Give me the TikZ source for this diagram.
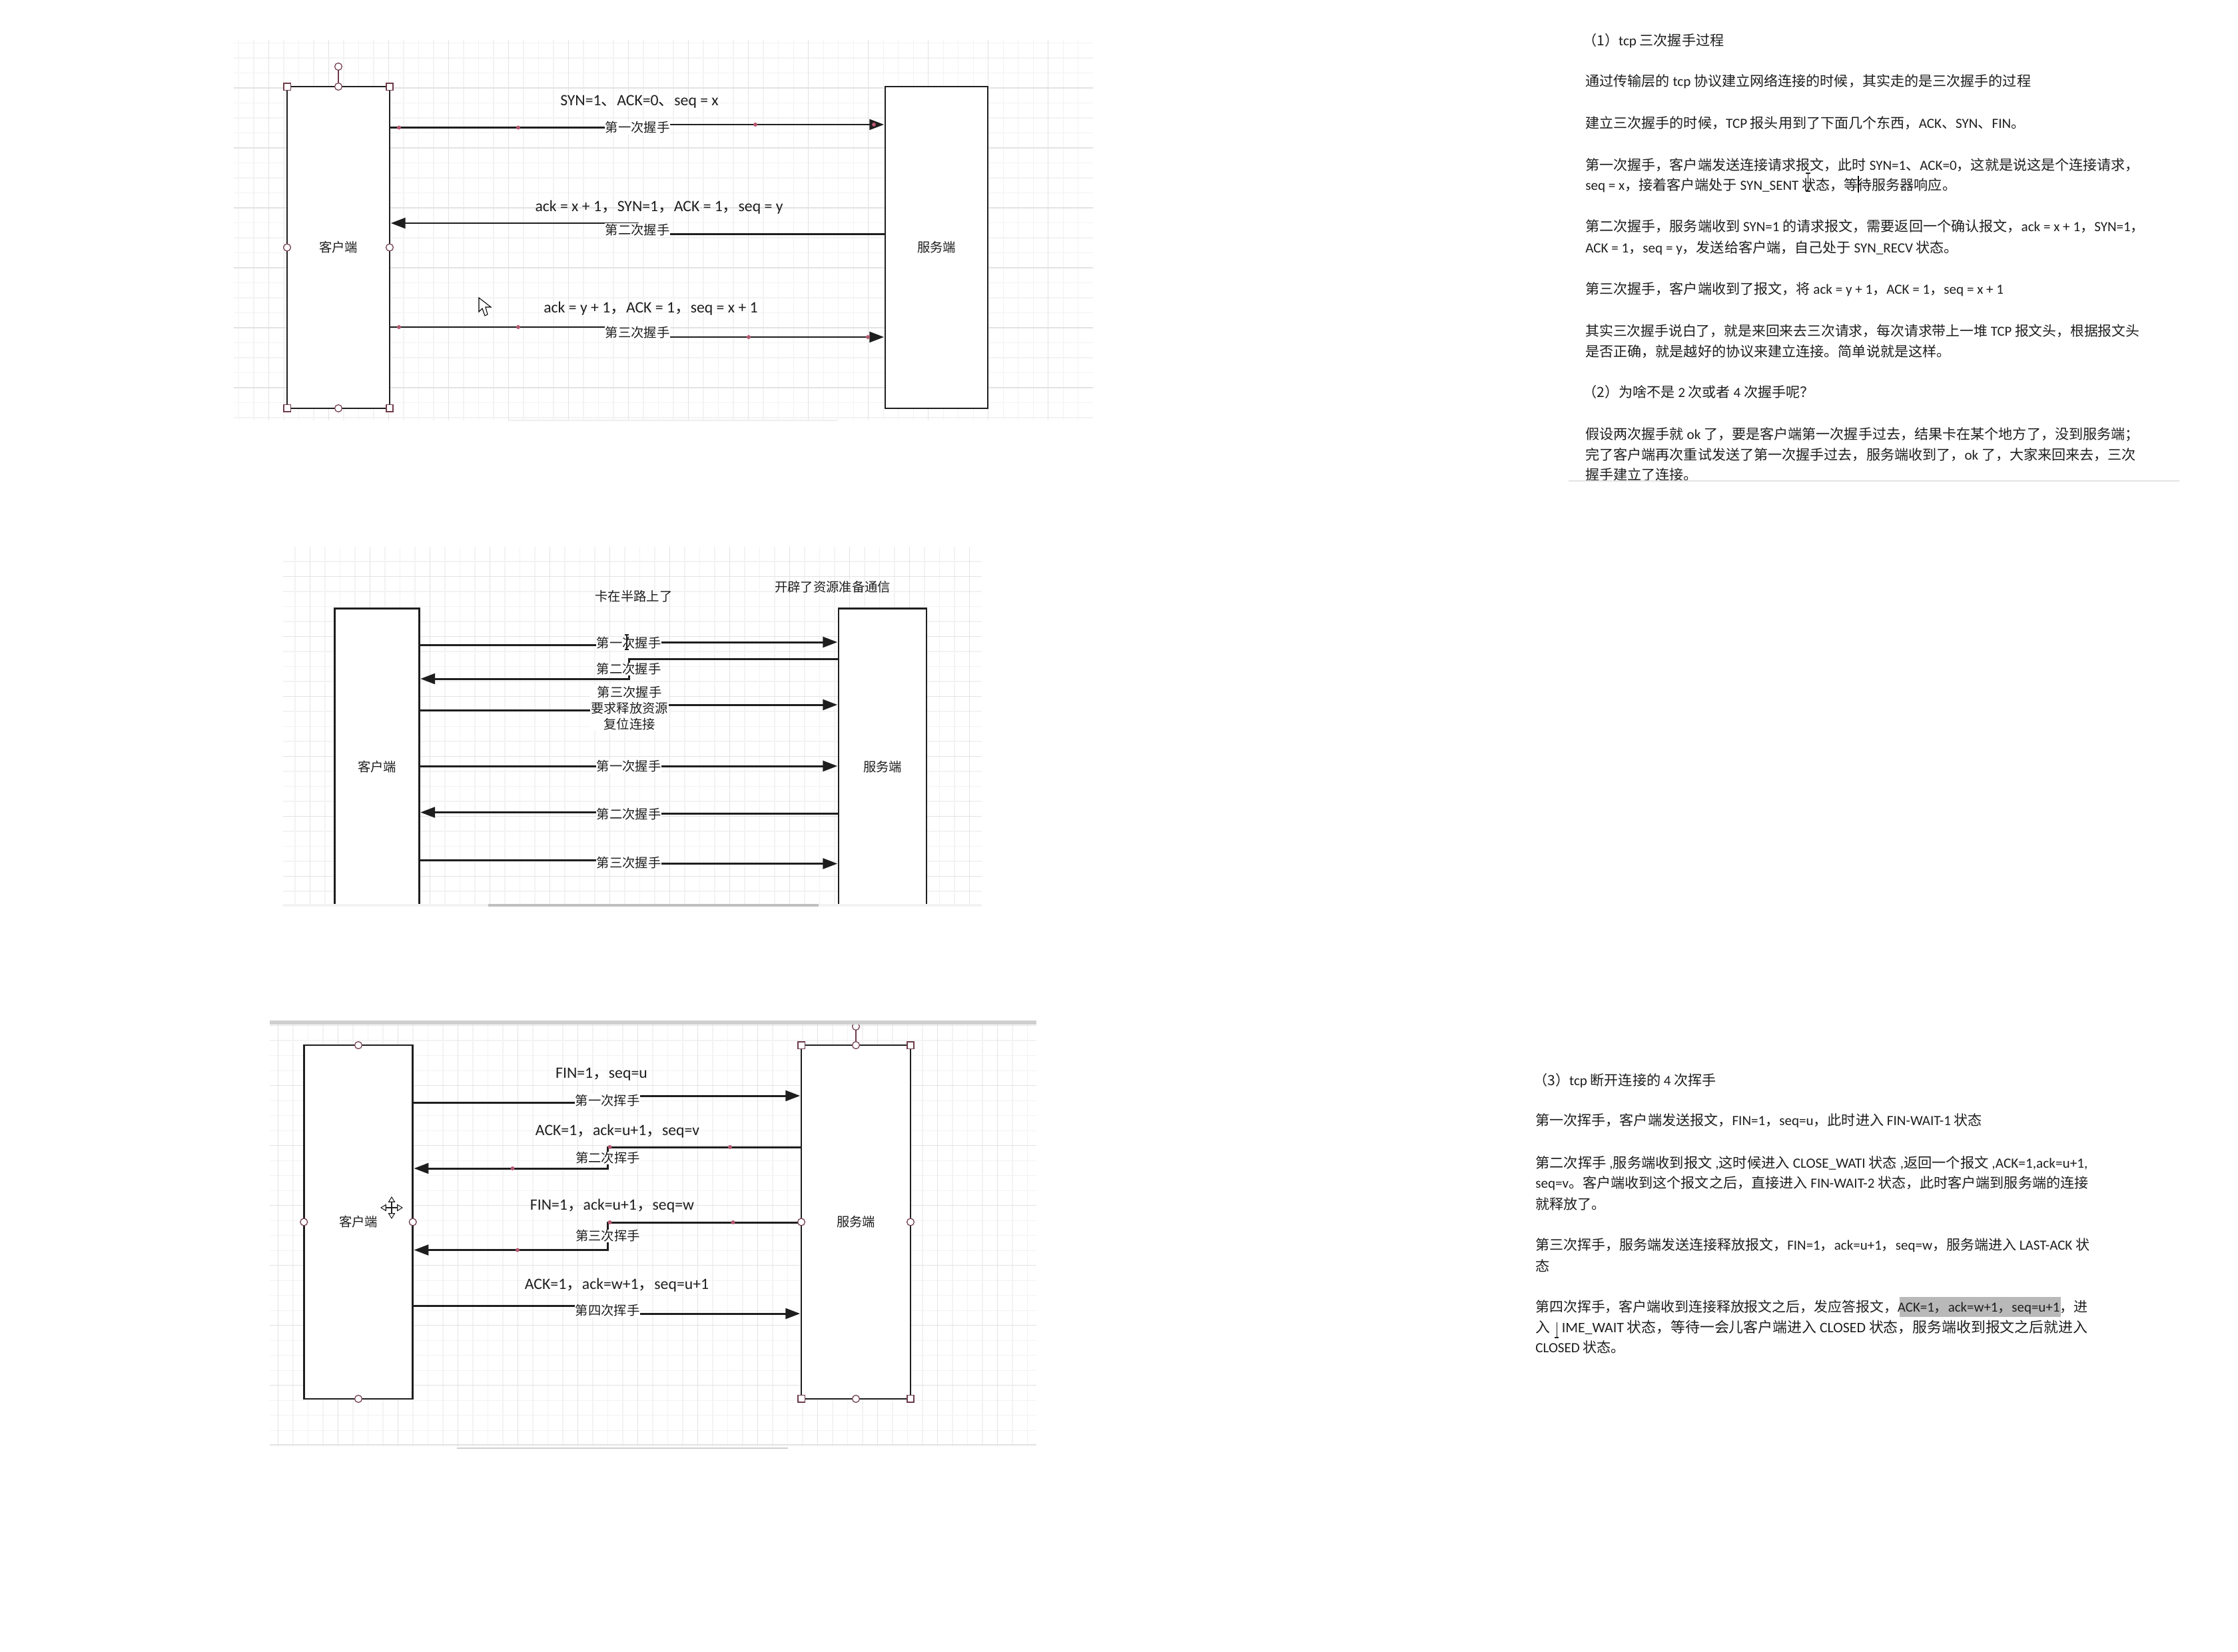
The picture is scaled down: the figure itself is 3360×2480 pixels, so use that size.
\documentclass[tikz,border=0pt]{standalone}
\usepackage{fontspec}
\setmainfont{Noto Sans CJK SC}
\newfontfamily\latfont{Carlito}
\usetikzlibrary{arrows.meta}

\definecolor{ink}{HTML}{1E1E1E}
\definecolor{minorline}{HTML}{F3F3F3}
\definecolor{majorline}{HTML}{E3E3E3}
\definecolor{handlecol}{HTML}{6E3A48}
\definecolor{bendcol}{HTML}{B5566F}

\newcommand{\lat}[1]{{\latfont #1}}

% grid sheet: x1, y1, x2, y2, x phase, y phase
\newcommand{\gridsheet}[6]{
    \begin{scope}
        \clip (#1,#2) rectangle (#3,#4);
        \foreach \i in {0,...,60} {
            \draw[minorline,line width=0.7pt] ({#5+22.5*\i},#2) -- ({#5+22.5*\i},#4);
            \draw[minorline,line width=0.7pt] (#1,{#6+22.5*\i}) -- (#3,{#6+22.5*\i});
        }
        \foreach \i in {0,...,15} {
            \draw[majorline,line width=0.8pt] ({#5+90*\i},#2) -- ({#5+90*\i},#4);
            \draw[majorline,line width=0.8pt] (#1,{#6+90*\i}) -- (#3,{#6+90*\i});
        }
    \end{scope}
}

\begin{document}
\begin{tikzpicture}[x=0.02cm,y=-0.02cm,
        box/.style = {rectangle,
            draw=ink,
            fill=white,
            line width=1.5pt,
            outer sep=0pt,
            text=ink,
            font=\fontsize{11}{13.8}\selectfont
            },
        wire/.style = {draw=ink,
            line width=1.7pt,
            -{Triangle[length=12.5pt,width=9pt]},
            shorten >=1pt
            },
        lbl/.style = {fill=white,
            inner sep=0.5pt,
            align=center,
            text=ink,
            font=\fontsize{11}{13.8}\selectfont
            },
        note/.style = {inner sep=0pt,
            text=ink,
            font=\fontsize{11}{13.8}\selectfont
            },
        tagnote/.style = {inner sep=0pt,
            text=ink,
            font=\fontsize{13.5}{15}\selectfont
            },
        para/.style = {anchor=base west,
            yshift=-4.5pt,
            inner sep=0pt,
            text=ink,
            font=\fontsize{12}{14}\selectfont
            },
        roundhandle/.style = {circle,
            draw=handlecol,
            fill=white,
            line width=0.7pt,
            inner sep=0pt,
            minimum size=6.2pt
            },
        squarehandle/.style = {rectangle,
            draw=handlecol,
            fill=white,
            line width=0.7pt,
            inner sep=0pt,
            minimum size=5.8pt
            }]

    \useasboundingbox (0,0) rectangle (3360,2480);
    \fill[white] (0,0) rectangle (3360,2480);

    % Three-way handshake
    \gridsheet{351}{60}{1641}{631}{313.6}{42}
    \fill[majorline!60] (763,630) rectangle (1258,632);

    \node[box,minimum width=3.08cm,minimum height=9.66cm] (A) at (508,371.5) {客户端};
    \node[box,minimum width=3.08cm,minimum height=9.66cm] (B) at (1406,371.5) {服务端};

    \coordinate (m1) at (957,191.5);
    \coordinate (m2) at (957,345);
    \coordinate (m3) at (957,499);
    \draw[wire] (A.east |- 0,191.5) -| (m1) |- (B.west |- 0,187);
    \draw[wire] (B.west |- 0,351.5) -| (m2) |- (A.east |- 0,335);
    \draw[wire] (A.east |- 0,491) -| (m3) |- (B.west |- 0,506);
    \foreach \x/\y in {599/191.5,778/191.5,1134/187,1312/187,599/491,778/491,1124/506,1303/506}
        \fill[bendcol] (\x,\y) circle (1.7pt);

    \node[lbl] (l1) at (m1) {第一次握手};
    \node[lbl] (l2) at (m2) {第二次握手};
    \node[lbl] (l3) at (m3) {第三次握手};

    \node[tagnote] (n1) at (960,152.5) {\lat{SYN=1}、\lat{ACK=0}、\lat{seq = x}};
    \node[tagnote] (n2) at (989.5,311.5) {\lat{ack = x + 1}，\lat{SYN=1}，\lat{ACK = 1}，\lat{seq = y}};
    \node[tagnote] (n3) at (977,463) {\lat{ack = y + 1}，\lat{ACK = 1}，\lat{seq = x + 1}};

    % Selection handles
    \foreach \p/\n in {north/n,south/s,east/e,west/w}
        \node[roundhandle] (A\n) at (A.\p) {};
    \foreach \p/\n in {north west/nw,north east/ne,south west/sw,south east/se}
        \node[squarehandle] (A\n) at (A.\p) {};
    \node[roundhandle] (Ar) at (508,100) {};
    \draw[handlecol,line width=0.7pt] (Ar) -- (An);

    % Mouse pointer
    \draw[fill=white,line width=0.6pt] (719,447) -- (719,468) -- (724,463) -- (728,474)
        -- (732,472) -- (729,461) -- (737,461) -- cycle;

    % Half-way case
    \gridsheet{425}{821}{1474}{1357}{375.4}{775.6}
    \fill[minorline] (425,1357) rectangle (1474,1361);
    \fill[gray!50] (733,1357) rectangle (1229,1361);

    \begin{scope}
        \clip (425,821) rectangle (1474,1356);
        \node[box,minimum width=2.54cm,minimum height=9.51cm] (C) at (566,1151.5) {客户端};
        \node[box,minimum width=2.64cm,minimum height=9.51cm] (D) at (1325,1151.5) {服务端};
    \end{scope}

    \coordinate (m4) at (944,965.5);
    \coordinate (m5) at (944,1004.5);
    \coordinate (m6) at (945,1063);
    \coordinate (m7) at (944,1150);
    \coordinate (m8) at (944,1222);
    \coordinate (m9) at (944,1295);
    \draw[wire] (C.east |- 0,968) -| (m4) |- (D.west |- 0,964);
    \draw[wire] (D.west |- 0,989) -| (m5) |- (C.east |- 0,1019);
    \draw[wire] (C.east |- 0,1066) -| (m6) |- (D.west |- 0,1058);
    \draw[wire] (C.east |- 0,1150) -- (D.west |- 0,1150);
    \draw[wire] (D.west |- 0,1221.5) -| (m8) |- (C.east |- 0,1219.5);
    \draw[wire] (C.east |- 0,1291.5) -| (m9) |- (D.west |- 0,1296.5);

    \node[lbl] (l4) at (m4) {第一次握手};
    \node[lbl] (l5) at (m5) {第二次握手};
    \node[lbl] (l6) at (m6) {第三次握手\\要求释放资源\\复位连接};
    \node[lbl] (l7) at (m7) {第一次握手};
    \node[lbl] (l8) at (m8) {第二次握手};
    \node[lbl] (l9) at (m9) {第三次握手};

    \node[note] (n4) at (951.5,895.5) {卡在半路上了};
    \node[note] (n5) at (1250,881.5) {开辟了资源准备通信};

    % Text cursor over the first label
    \draw[ink,line width=0.6pt] (941,953) -- (941,975) (938,953) -- (944,953) (938,975) -- (944,975);

    % Four-way wave
    \gridsheet{405}{1538}{1556}{2171}{327.5}{1449.6}
    \fill[majorline!80!gray] (405,1532) rectangle (1556,1538);
    \fill[majorline] (405,2168) rectangle (1556,2170);
    \fill[majorline!80!gray] (686,2173) rectangle (1183,2175);

    \node[box,minimum width=3.27cm,minimum height=10.62cm] (E) at (538,1834.5) {客户端};
    \node[box,minimum width=3.28cm,minimum height=10.62cm] (F) at (1285,1834.5) {服务端};

    \coordinate (m10) at (912,1652);
    \coordinate (m11) at (912.5,1738.5);
    \coordinate (m12) at (912.5,1855.5);
    \coordinate (m13) at (912,1967.5);
    \draw[wire] (E.east |- 0,1655.5) -| (m10) |- (F.west |- 0,1645);
    \draw[wire] (F.west |- 0,1722) -| (m11) |- (E.east |- 0,1754);
    \draw[wire] (F.west |- 0,1835) -| (m12) |- (E.east |- 0,1876.5);
    \draw[wire] (E.east |- 0,1960.5) -| (m13) |- (F.west |- 0,1972);
    \foreach \x/\y in {915.5/1722,1096/1722,769.5/1754,915.5/1835,1100.5/1835,777/1876.5}
        \fill[bendcol] (\x,\y) circle (1.7pt);

    \node[lbl] (l10) at (m10) {第一次挥手};
    \node[lbl] (l11) at (m11) {第二次挥手};
    \node[lbl] (l12) at (m12) {第三次挥手};
    \node[lbl] (l13) at (m13) {第四次挥手};

    \node[tagnote] (n6) at (903,1612.5) {\lat{FIN=1}，\lat{seq=u}};
    \node[tagnote] (n7) at (927,1698) {\lat{ACK=1}，\lat{ack=u+1}，\lat{seq=v}};
    \node[tagnote] (n8) at (919,1810.5) {\lat{FIN=1}，\lat{ack=u+1}，\lat{seq=w}};
    \node[tagnote] (n9) at (926,1929.5) {\lat{ACK=1}，\lat{ack=w+1}，\lat{seq=u+1}};

    % Selection handles
    \foreach \p/\n in {north/n,south/s,east/e,west/w} {
        \node[roundhandle] (E\n) at (E.\p) {};
        \node[roundhandle] (F\n) at (F.\p) {};
    }
    \foreach \p/\n in {north west/nw,north east/ne,south west/sw,south east/se}
        \node[squarehandle] (F\n) at (F.\p) {};
    \begin{scope}
        \clip (405,1538) rectangle (1556,2171);
        \node[roundhandle] (Fr) at (1285,1541) {};
    \end{scope}
    \draw[handlecol,line width=0.7pt] (Fr) -- (Fn);

    % Move cursor
    \draw[ink,line width=0.6pt,{Triangle[open,length=5pt,width=6pt]}-{Triangle[open,length=5pt,width=6pt]}] (571,1813) -- (605,1813);
    \draw[ink,line width=0.6pt,{Triangle[open,length=5pt,width=6pt]}-{Triangle[open,length=5pt,width=6pt]}] (588,1796) -- (588,1830);

    % Notes on the handshake
    \begin{scope}
        \clip (2340,30) rectangle (3300,720.5);
        \node[para] (t1) at (2376,61) {（1）\lat{tcp} 三次握手过程};
        \node[para] (t2) at (2380,121.5) {通过传输层的 \lat{tcp} 协议建立网络连接的时候，其实走的是三次握手的过程};
        \node[para] (t3) at (2380,185) {建立三次握手的时候，\lat{TCP} 报头用到了下面几个东西，\lat{ACK}、\lat{SYN}、\lat{FIN}。};
        \node[para] (t4) at (2380,248) {第一次握手，客户端发送连接请求报文，此时 \lat{SYN=1}、\lat{ACK=0}，这就是说这是个连接请求，};
        \node[para] (t5) at (2380,278) {\lat{seq = x}，接着客户端处于 \lat{SYN\_SENT} 状态，等待服务器响应。};
        \node[para] (t6) at (2380,340) {第二次握手，服务端收到 \lat{SYN=1} 的请求报文，需要返回一个确认报文，\lat{ack = x + 1}，\lat{SYN=1}，};
        \node[para] (t7) at (2380,372) {\lat{ACK = 1}，\lat{seq = y}，发送给客户端，自己处于 \lat{SYN\_RECV} 状态。};
        \node[para] (t8) at (2380,434) {第三次握手，客户端收到了报文，将 \lat{ack = y + 1}，\lat{ACK = 1}，\lat{seq = x + 1}};
        \node[para,font=\fontsize{11.85}{14}\selectfont] (t9) at (2380,496.5) {其实三次握手说白了，就是来回来去三次请求，每次请求带上一堆 \lat{TCP} 报文头，根据报文头};
        \node[para] (t10) at (2380,528) {是否正确，就是越好的协议来建立连接。简单说就是这样。};
        \node[para] (t11) at (2376,589) {（2）为啥不是 \lat{2} 次或者 \lat{4} 次握手呢？};
        \node[para] (t12) at (2380,651.5) {假设两次握手就 \lat{ok} 了，要是客户端第一次握手过去，结果卡在某个地方了，没到服务端；};
        \node[para] (t13) at (2380,683) {完了客户端再次重试发送了第一次握手过去，服务端收到了，\lat{ok} 了，大家来回来去，三次};
        \node[para] (t14) at (2380,713) {握手建立了连接。};
    \end{scope}
    \fill[majorline] (2355,721) rectangle (3272,723);
    \draw[ink,line width=0.6pt] (2714.5,260) -- (2714.5,287) (2711,260) -- (2718,260) (2711,287) -- (2718,287);
    \draw[black,line width=1.2pt] (2790,264) -- (2790,289);

    % Notes on the wave
    \fill[gray!55] (2852,1947) rectangle (3094,1977);
    \node[para] (t15) at (2302,1621.5) {（3）\lat{tcp} 断开连接的 \lat{4} 次挥手};
    \node[para] (t16) at (2305,1682) {第一次挥手，客户端发送报文，\lat{FIN=1}，\lat{seq=u}，此时进入 \lat{FIN-WAIT-1} 状态};
    \node[para,font=\fontsize{12.1}{14}\selectfont] (t17) at (2305,1746) {第二次挥手\lat{ ,}服务端收到报文\lat{ ,}这时候进入 \lat{CLOSE\_WATI} 状态\lat{ ,}返回一个报文\lat{ ,ACK=1,ack=u+1,}};
    \node[para] (t18) at (2305,1776) {\lat{seq=v}。客户端收到这个报文之后，直接进入 \lat{FIN-WAIT-2} 状态，此时客户端到服务端的连接};
    \node[para] (t19) at (2305,1807.5) {就释放了。};
    \node[para,font=\fontsize{11.95}{14}\selectfont] (t20) at (2305,1869) {第三次挥手，服务端发送连接释放报文，\lat{FIN=1}，\lat{ack=u+1}，\lat{seq=w}，服务端进入 \lat{LAST-ACK} 状};
    \node[para] (t21) at (2305,1900.5) {态};
    \node[para,font=\fontsize{11.9}{14}\selectfont] (t22) at (2305,1962) {第四次挥手，客户端收到连接释放报文之后，发应答报文，\lat{ACK=1}，\lat{ack=w+1}，\lat{seq=u+1}，进};
    \node[para,font=\fontsize{12.45}{14}\selectfont] (t23) at (2305,1993) {入\hspace{10pt}\lat{IME\_WAIT} 状态，等待一会儿客户端进入 \lat{CLOSED} 状态，服务端收到报文之后就进入};
    \node[para] (t24) at (2305,2023) {\lat{CLOSED} 状态。};
    \draw[ink,line width=0.6pt] (2337,1985) -- (2337,2008) (2334,2008) -- (2340,2008);

\end{tikzpicture}
\end{document}
